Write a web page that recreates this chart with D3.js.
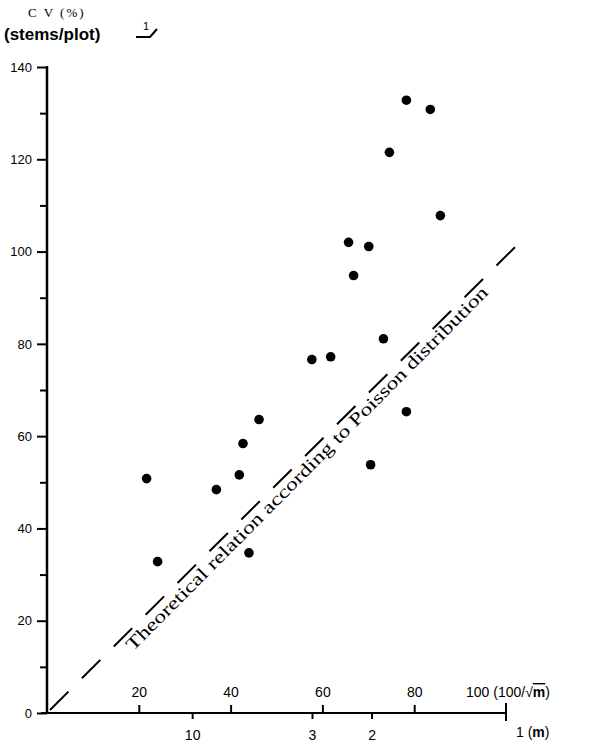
<!DOCTYPE html>
<html><head><meta charset="utf-8">
<script src="https://cdn.jsdelivr.net/npm/d3@7"></script>
<style>html,body{margin:0;padding:0;background:#fff;}svg{display:block;}</style>
</head><body>
<script>
// Data: x = 100/sqrt(m), y = CV (%)
const xValues = [21.7, 24.1, 36.9, 41.9, 42.7, 44.0, 46.2, 57.7, 61.8, 65.7, 66.8, 70.1, 70.5, 73.3, 74.6, 78.3, 78.3, 83.5, 85.7];
const yValues = [50.8, 32.8, 48.4, 51.6, 58.4, 34.7, 63.6, 76.6, 77.2, 102.0, 94.8, 101.1, 53.8, 81.1, 121.5, 132.8, 65.3, 130.8, 107.8];
const yTicks = [0, 20, 40, 60, 80, 100, 120, 140];
const yMinorTicks = [10, 30, 50, 70, 90, 110, 130];
const xTopTicks = [20, 40, 60, 80];
const mTicks = [10, 3, 2];
const poissonX = [0, 103];
const poissonY = [0, 102];

const W = 593, H = 756;
const svg = d3.select("body").append("svg").attr("width", W).attr("height", H);
svg.append("rect").attr("width", W).attr("height", H).attr("fill", "#fff");

const x = d3.scaleLinear().domain([0, 100]).range([47, 506]);
const y = d3.scaleLinear().domain([0, 140]).range([713, 67]);

const sans = "Liberation Sans, Arial, sans-serif";
const serif = "Liberation Serif, Times New Roman, serif";

// Y axis
const yAxis = d3.axisLeft(y).tickValues(yTicks).tickSize(10).tickPadding(5).tickFormat(d3.format("d"));
const gy = svg.append("g").attr("transform", `translate(${x(0)},0)`).call(yAxis);
gy.select(".domain").remove();
gy.selectAll(".tick line").attr("stroke", "#000").attr("stroke-width", 2);
gy.selectAll(".tick text").attr("font-family", sans).attr("font-size", 13).attr("fill", "#000");
const yMinor = d3.axisLeft(y).tickValues(yMinorTicks).tickSize(7).tickFormat("");
const gy2 = svg.append("g").attr("transform", `translate(${x(0)},0)`).call(yMinor);
gy2.select(".domain").remove();
gy2.selectAll(".tick line").attr("stroke", "#000").attr("stroke-width", 2);
svg.append("line").attr("x1", x(0)).attr("x2", x(0)).attr("y1", y(0)).attr("y2", y(140) - 1)
  .attr("stroke", "#000").attr("stroke-width", 2.5);

// X axis line
svg.append("line").attr("x1", x(0) - 6).attr("x2", x(100)).attr("y1", y(0)).attr("y2", y(0))
  .attr("stroke", "#000").attr("stroke-width", 2.2);

// top ticks (100/sqrt m)
const xTop = d3.axisTop(x).tickValues(xTopTicks).tickSize(8).tickPadding(8).tickFormat(d3.format("d"));
const gxt = svg.append("g").attr("transform", `translate(0,${y(0)})`).call(xTop);
gxt.select(".domain").remove();
gxt.selectAll(".tick line").attr("stroke", "#000").attr("stroke-width", 2);
gxt.selectAll(".tick text").attr("font-family", sans).attr("font-size", 14).attr("fill", "#000");

// tick at 100 (both sides)
svg.append("line").attr("x1", x(100)).attr("x2", x(100)).attr("y1", y(0) - 10).attr("y2", y(0) + 8)
  .attr("stroke", "#000").attr("stroke-width", 2);

// bottom ticks (m)
const xBot = d3.axisBottom(x).tickValues(mTicks.map(m => 100 / Math.sqrt(m))).tickSize(6).tickPadding(11)
  .tickFormat((d, i) => mTicks[i]);
const gxb = svg.append("g").attr("transform", `translate(0,${y(0)})`).call(xBot);
gxb.select(".domain").remove();
gxb.selectAll(".tick line").attr("stroke", "#000").attr("stroke-width", 2);
gxb.selectAll(".tick text").attr("font-family", sans).attr("font-size", 14).attr("fill", "#000");

// "100 (100/√m)" label
const t100 = svg.append("text").attr("x", 466).attr("y", y(0) - 16)
  .attr("font-family", sans).attr("font-size", 14).attr("fill", "#000");
t100.append("tspan").text("100 (100/√");
t100.append("tspan").text("m").attr("font-weight", "bold").style("text-decoration", "overline");
t100.append("tspan").text(")");

// "1 (m)" label
const t1 = svg.append("text").attr("x", x(100) + 10).attr("y", y(0) + 24)
  .attr("font-family", sans).attr("font-size", 14).attr("fill", "#000");
t1.append("tspan").text("1 (");
t1.append("tspan").text("m").attr("font-weight", "bold");
t1.append("tspan").text(")");

// Dashed theoretical line
svg.append("line").attr("x1", x(poissonX[0]) + 3).attr("y1", y(poissonY[0]) - 3)
  .attr("x2", x(poissonX[1])).attr("y2", y(poissonY[1]))
  .attr("stroke", "#000").attr("stroke-width", 2).attr("stroke-dasharray", "26,19");

// rotated label
const ang = Math.atan2(y(100) - y(0), x(100) - x(0)) * 180 / Math.PI;
const sx = x(17) + 8, sy = y(17) + 17;
svg.append("text").attr("transform", `translate(${sx},${sy}) rotate(${ang})`)
  .attr("font-family", serif).attr("font-size", 18).attr("fill", "#000")
  .attr("textLength", 505).attr("lengthAdjust", "spacingAndGlyphs")
  .text("Theoretical relation according to Poisson distribution");

// points
svg.append("g").selectAll("circle").data(xValues).join("circle")
  .attr("cx", (d) => x(d)).attr("cy", (d, i) => y(yValues[i])).attr("r", 4.8).attr("fill", "#000");

// Title labels
svg.append("text").attr("x", 28).attr("y", 17).attr("font-family", serif).attr("font-size", 13)
  .attr("fill", "#000").attr("letter-spacing", 2).text("C V (%)");
svg.append("text").attr("x", 4).attr("y", 40).attr("font-family", sans).attr("font-size", 17)
  .attr("font-weight", "bold").attr("fill", "#000").text("(stems/plot)");
svg.append("text").attr("x", 143).attr("y", 30).attr("font-family", sans).attr("font-size", 11)
  .attr("fill", "#000").text("1");
svg.append("path").attr("d", "M136,37 L150,37 L157,29").attr("fill", "none").attr("stroke", "#000").attr("stroke-width", 2);
</script>
</body></html>
